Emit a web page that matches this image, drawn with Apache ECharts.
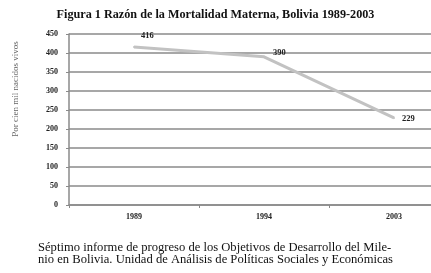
<!DOCTYPE html>
<html>
<head>
<meta charset="utf-8">
<script src="https://cdn.jsdelivr.net/npm/echarts@6/dist/echarts.min.js"></script>
<style>
  html, body { margin: 0; padding: 0; background: #fff; }
  #chart { width: 431px; height: 273px; }
</style>
</head>
<body>
<div id="chart"></div>
<script>
// datos
var years = ['1989', '1994', '2003']
var rmm = [416, 390, 229]
var yTicks = [0, 50, 100, 150, 200, 250, 300, 350, 400, 450]

var serif = '"Liberation Serif", "DejaVu Serif", serif'
var chart = echarts.init(document.getElementById('chart'))

var lblStyle = {
  show: true,
  fontFamily: serif,
  fontSize: 8.5,
  fontWeight: 'bold',
  color: '#222'
}

var option = {
  backgroundColor: '#fff',
  animation: false,
  title: {
    text: 'Figura 1 Razón de la Mortalidad Materna, Bolivia 1989-2003',
    left: 'center',
    top: 4,
    textStyle: {
      fontFamily: serif,
      fontSize: 12.2,
      fontWeight: 'bold',
      color: '#111'
    }
  },
  grid: {
    left: 69,
    right: -28,
    top: 34,
    bottom: 68,
    outerBoundsMode: 'none',
    containLabel: false
  },
  xAxis: {
    type: 'category',
    data: years,
    boundaryGap: true,
    axisLine: { lineStyle: { color: '#8a8a8a', width: 1.5 } },
    axisTick: { show: true, length: 3, lineStyle: { color: '#8a8a8a' } },
    axisLabel: {
      fontFamily: serif,
      fontSize: 8,
      fontWeight: 'bold',
      color: '#222',
      margin: 8
    }
  },
  yAxis: {
    type: 'value',
    min: yTicks[0],
    max: yTicks[yTicks.length - 1],
    interval: 50,
    axisLine: { show: true, lineStyle: { color: '#8a8a8a', width: 1.5 } },
    axisTick: { show: true, length: 3, lineStyle: { color: '#8a8a8a' } },
    splitLine: { lineStyle: { color: '#8a8a8a', width: 1.5 } },
    axisLabel: {
      fontFamily: serif,
      fontSize: 8,
      fontWeight: 'bold',
      color: '#222',
      margin: 11
    }
  },
  series: [{
    type: 'line',
    data: [
      { value: rmm[0], label: { position: [8, -15] } },
      { value: rmm[1], label: { position: [10, -8] } },
      { value: rmm[2], label: { position: [9, -3] } }
    ],
    symbol: 'circle',
    symbolSize: 2,
    showSymbol: true,
    itemStyle: { color: '#c2c2c2' },
    lineStyle: { color: '#c2c2c2', width: 3 },
    label: lblStyle,
    labelLayout: { hideOverlap: false }
  }],
  graphic: [
    {
      type: 'text',
      x: 16,
      y: 89,
      rotation: Math.PI / 2,
      style: {
        text: 'Por cien mil nacidos vivos',
        fontFamily: serif,
        fontSize: 9,
        fill: '#666',
        align: 'center',
        verticalAlign: 'middle'
      }
    },
    {
      type: 'text',
      left: 38,
      top: 241,
      style: {
        text: 'Séptimo informe de progreso de los Objetivos de Desarrollo del Mile-\nnio en Bolivia. Unidad de Análisis de Políticas Sociales y Económicas',
        fontFamily: serif,
        fontSize: 12.6,
        lineHeight: 12,
        fill: '#111'
      }
    }
  ]
}

chart.setOption(option)
</script>
</body>
</html>
